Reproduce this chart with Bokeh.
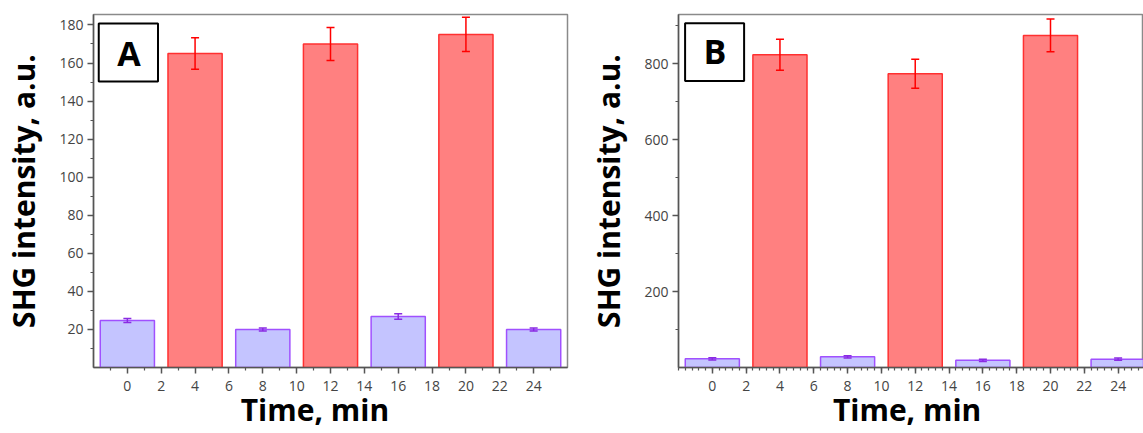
from bokeh.plotting import figure
from bokeh.layouts import row
from bokeh.models import (ColumnDataSource, Whisker, TeeHead, FixedTicker, Range1d,
                          BoxAnnotation, Label)
from bokeh.embed import file_html
from bokeh.resources import INLINE

# ---- data ----
times = [0, 4, 8, 12, 16, 20, 24]
state = ["off", "on", "off", "on", "off", "on", "off"]
a_values = [24.7, 165.0, 20.0, 170.0, 26.8, 175.0, 20.0]
a_errors = [1.0, 8.3, 0.8, 8.7, 1.5, 9.0, 0.8]
b_values = [23.0, 824.0, 28.0, 774.0, 19.0, 875.0, 22.0]
b_errors = [3.0, 41.0, 3.0, 38.0, 3.0, 43.0, 3.0]

x_major = [0, 2, 4, 6, 8, 10, 12, 14, 16, 18, 20, 22, 24]
a_y_major = [20, 40, 60, 80, 100, 120, 140, 160, 180]
a_y_minor = [10, 30, 50, 70, 90, 110, 130, 150, 170]
b_y_major = [200, 400, 600, 800]
b_y_minor = [100, 300, 500, 700, 900]

x_title = "Time, min"
y_title = "SHG intensity, a.u."

STYLE = {
    "off": dict(fill="#C4C4FF", line="#A050FF", err="#8A2BE2"),
    "on": dict(fill="#FF8080", line="#FF3030", err="#FF0000"),
}
FONT = "Open Sans"
NBSP = "\u00a0"


def make_panel(values, errors, y_end, x_end, y_major, y_minor, x_minor, letter,
               box, letter_pos, width, left, right, x_pad):
    p = figure(width=width, height=433, x_range=Range1d(-2, x_end),
               y_range=Range1d(0, y_end), output_backend="svg",
               toolbar_location=None, min_border_left=left, min_border_right=right,
               min_border_top=14, min_border_bottom=66)
    p.xgrid.visible = False
    p.ygrid.visible = False
    p.outline_line_color = "#8A8A8A"
    p.outline_line_width = 1.5
    p.background_fill_color = "white"
    p.border_fill_color = "white"

    for st in ["off", "on"]:
        idx = [i for i, s in enumerate(state) if s == st]
        src = ColumnDataSource(dict(
            x=[times[i] for i in idx],
            top=[values[i] for i in idx],
            upper=[values[i] + errors[i] for i in idx],
            lower=[values[i] - errors[i] for i in idx],
        ))
        sty = STYLE[st]
        p.vbar(x="x", top="top", bottom=0, width=3.2, source=src,
               fill_color=sty["fill"], line_color=sty["line"], line_width=1.5)
        w = Whisker(base="x", upper="upper", lower="lower", source=src,
                    line_color=sty["err"], line_width=1.5, level="overlay",
                    upper_head=TeeHead(size=8, line_color=sty["err"], line_width=1.5),
                    lower_head=TeeHead(size=8, line_color=sty["err"], line_width=1.5))
        p.add_layout(w)

    for ax in (p.xaxis[0], p.yaxis[0]):
        ax.axis_line_color = "#555555"
        ax.axis_line_width = 1.5
        ax.major_tick_line_color = "#555555"
        ax.minor_tick_line_color = "#555555"
        ax.major_tick_line_width = 1.5
        ax.minor_tick_line_width = 1.2
        ax.major_tick_out = 6
        ax.major_tick_in = 0
        ax.minor_tick_out = 3
        ax.minor_tick_in = 0
        ax.major_label_text_font = FONT
        ax.major_label_text_font_size = "14px"
        ax.major_label_text_color = "#444444"
        ax.axis_label_text_font = FONT
        ax.axis_label_text_font_style = "bold"
        ax.axis_label_text_font_size = "30px"
        ax.axis_label_text_color = "black"
    p.xaxis.ticker = FixedTicker(ticks=x_major, minor_ticks=x_minor)
    p.yaxis.ticker = FixedTicker(ticks=y_major, minor_ticks=y_minor)
    p.xaxis.major_label_standoff = 7
    p.yaxis.major_label_standoff = 4
    p.xaxis.axis_label = x_title + NBSP * x_pad
    p.yaxis.axis_label = y_title
    p.xaxis.axis_label_standoff = -5
    p.yaxis.axis_label_standoff = 12

    p.add_layout(BoxAnnotation(left=box[0], right=box[1], bottom=box[2], top=box[3],
                               fill_color="white", fill_alpha=1.0,
                               line_color="black", line_width=2, line_alpha=1.0))
    p.add_layout(Label(x=letter_pos[0], y=letter_pos[1], text=letter,
                       text_align="center", text_baseline="middle",
                       text_font=FONT, text_font_style="bold",
                       text_font_size="34px", text_color="black"))
    return p


a_x_minor = [v for v in range(-1, 27, 2)]
b_x_minor = [round(-2 + 0.4 * k, 2) for k in range(0, 70)]

pa = make_panel(a_values, a_errors, 185.5, 26, a_y_major, a_y_minor, a_x_minor, "A",
                (-1.69, 1.81, 150.3, 180.8), (0.1, 165.5), 575, 92, 8, 4)
pb = make_panel(b_values, b_errors, 930, 25.5, b_y_major, b_y_minor, b_x_minor, "B",
                (-1.61, 1.88, 755, 907), (0.15, 833), 568, 103, 0, 1)

layout = row(pa, pb, spacing=0)
open("out.html", "w").write(file_html(layout, INLINE))
